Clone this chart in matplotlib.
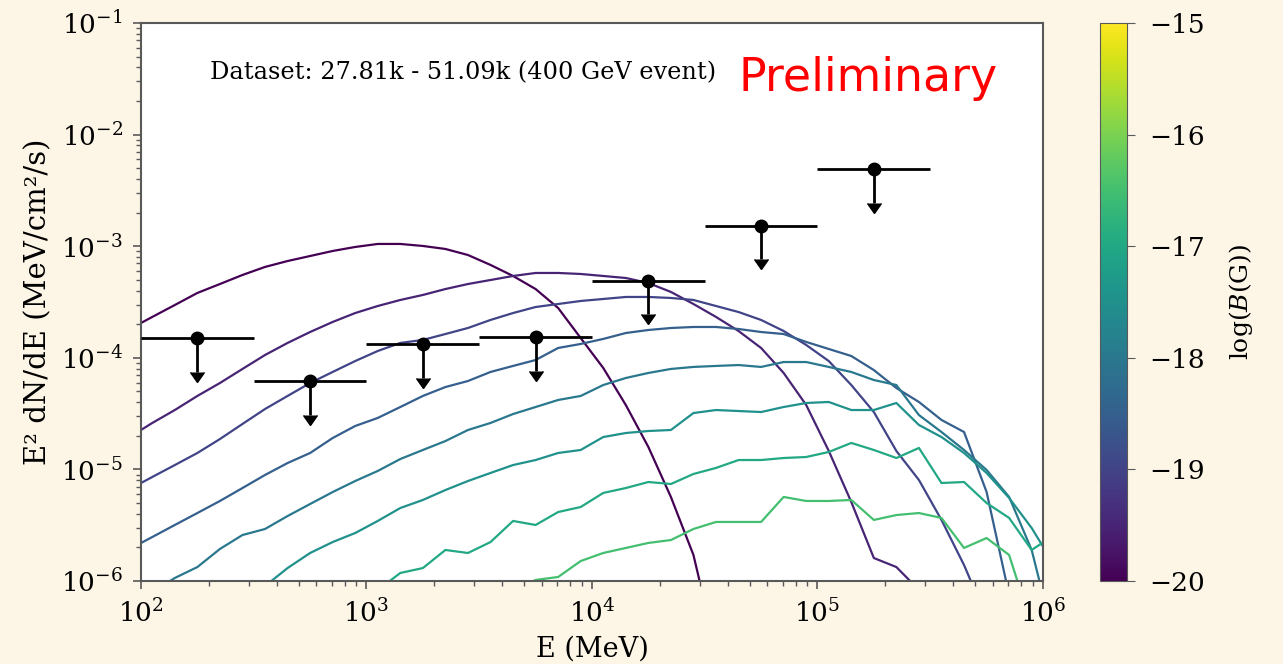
import numpy as np
import matplotlib
matplotlib.use('Agg')
import matplotlib.pyplot as plt
import matplotlib.colors as mcolors
import matplotlib.cm as cm

plt.rcParams['font.family'] = 'DejaVu Serif'
plt.rcParams['mathtext.fontset'] = 'dejavuserif'

# energy grid: bin centres, 10 bins per decade (log10 MeV)
log_e = np.round(np.arange(1.95, 6.06, 0.1), 2)

# cascade spectra, log10(E^2 dN/dE) for each log10(B/G)
log_b = [-20.0, -19.5, -19.0, -18.5, -18.0, -17.5, -17.0, -16.5]
start_e = [1.95, 1.95, 1.95, 1.95, 1.95, 2.45, 3.05, 3.65]

flux_b200 = [-3.742, -3.634, -3.527, -3.419, -3.339, -3.258, -3.186, -3.133, -3.088, -3.043,
             -3.007, -2.980, -2.980, -2.998, -3.025, -3.079, -3.168, -3.267, -3.384, -3.554,
             -3.823, -4.091, -4.423, -4.799, -5.247, -5.767, -6.62]
flux_b195 = [-4.710, -4.584, -4.468, -4.342, -4.226, -4.100, -3.975, -3.867, -3.769, -3.679,
             -3.599, -3.536, -3.482, -3.437, -3.384, -3.339, -3.303, -3.267, -3.240, -3.240,
             -3.249, -3.267, -3.285, -3.330, -3.410, -3.518, -3.634, -3.760, -3.912, -4.136,
             -4.423, -4.834, -5.292, -5.794, -5.875, -6.08]
flux_b190 = [-5.176, -5.068, -4.961, -4.853, -4.728, -4.593, -4.459, -4.342, -4.226, -4.127,
             -4.029, -3.939, -3.867, -3.840, -3.787, -3.733, -3.661, -3.599, -3.545, -3.518,
             -3.491, -3.473, -3.455, -3.455, -3.464, -3.482, -3.536, -3.590, -3.661, -3.760,
             -3.885, -4.029, -4.244, -4.486, -4.835, -5.095, -5.453, -5.857, -6.33]
flux_b185 = [-5.713, -5.606, -5.498, -5.391, -5.283, -5.167, -5.050, -4.943, -4.853, -4.719,
             -4.611, -4.539, -4.441, -4.342, -4.262, -4.208, -4.127, -4.073, -4.020, -3.912,
             -3.876, -3.831, -3.778, -3.751, -3.733, -3.724, -3.724, -3.742, -3.769, -3.787,
             -3.858, -3.921, -3.984, -4.110, -4.271, -4.396, -4.557, -4.665, -5.202, -6.125]
flux_b180 = [-6.30, -6.10, -5.973, -5.875, -5.713, -5.588, -5.534, -5.418, -5.310, -5.203,
             -5.104, -5.014, -4.907, -4.826, -4.746, -4.647, -4.584, -4.504, -4.441, -4.378,
             -4.342, -4.244, -4.181, -4.136, -4.100, -4.082, -4.073, -4.065, -4.082, -4.038,
             -4.038, -4.082, -4.127, -4.199, -4.244, -4.513, -4.665, -4.826, -5.005, -5.247,
             -5.722, -6.53]
flux_b175 = [-6.215, -6.045, -5.884, -5.749, -5.651, -5.570, -5.462, -5.346, -5.274, -5.185,
             -5.104, -5.032, -4.961, -4.916, -4.853, -4.826, -4.710, -4.674, -4.656, -4.647,
             -4.495, -4.468, -4.477, -4.486, -4.441, -4.405, -4.396, -4.468, -4.468, -4.405,
             -4.602, -4.710, -4.853, -5.032, -5.256, -5.525, -5.857]
flux_b170 = [-6.081, -5.928, -5.884, -5.722, -5.749, -5.651, -5.462, -5.498, -5.382, -5.337,
             -5.211, -5.167, -5.113, -5.131, -5.041, -4.987, -4.916, -4.916, -4.898, -4.889,
             -4.844, -4.763, -4.826, -4.898, -4.808, -5.122, -5.113, -5.301, -5.435, -5.722,
             -5.588]
flux_b165 = [-6.081, -5.991, -5.964, -5.821, -5.749, -5.704, -5.659, -5.633, -5.534, -5.471,
             -5.471, -5.471, -5.247, -5.283, -5.283, -5.274, -5.453, -5.409, -5.391, -5.435,
             -5.704, -5.615, -5.767, -6.40]
spectra = [flux_b200, flux_b195, flux_b190, flux_b185, flux_b180, flux_b175, flux_b170, flux_b165]

# upper limits, two bins per decade (bin edges incl. the last upper edge)
ul_edges = [1e2, 10**2.5, 1e3, 10**3.5, 1e4, 10**4.5, 1e5, 10**5.5]
ul_flux = [1.5e-4, 6.2e-5, 1.33e-4, 1.53e-4, 4.9e-4, 1.52e-3, 4.9e-3]

bg = '#fdf6e7'
fig = plt.figure(figsize=(12.83, 6.64), dpi=100, facecolor=bg)
ax = fig.add_axes([0.1099, 0.125, 0.703, 0.8404])
cax = fig.add_axes([0.8574, 0.125, 0.0211, 0.8404])

norm = mcolors.Normalize(vmin=-20, vmax=-15)
cmap = plt.get_cmap('viridis')

for b, e0, vals in zip(log_b, start_e, spectra):
    i0 = int(np.argmin(np.abs(log_e - e0)))
    le = log_e[i0:i0 + len(vals)]
    ax.plot(10**le, 10**np.array(vals), color=cmap(norm(b)), lw=1.6)

edges = np.array(ul_edges)
lo, hi = edges[:-1], edges[1:]
ec = np.sqrt(lo * hi)
uf = np.array(ul_flux)
# energy bins without caps, then the downward arrows
ax.errorbar(ec, uf, xerr=[ec - lo, hi - ec], fmt='none', ecolor='k', lw=2, capsize=0, zorder=5)
ax.errorbar(ec, uf, yerr=0.5 * uf, uplims=True, fmt='o', color='k', ms=9, lw=2,
            capsize=5, zorder=5)

ax.set_xscale('log')
ax.set_yscale('log')
ax.set_xlim(1e2, 1e6)
ax.set_ylim(1e-6, 1e-1)
ax.set_xlabel('E (MeV)', fontsize=19.5, labelpad=6)
ax.set_ylabel('E² dN/dE (MeV/cm²/s)', fontsize=21, labelpad=6)

spine_c = '0.35'
for s in ax.spines.values():
    s.set_color(spine_c)
    s.set_linewidth(1.5)
ax.tick_params(which='major', labelsize=19, length=6, width=1.2, color=spine_c, pad=7)
ax.tick_params(which='minor', length=3.5, width=1, color=spine_c)

ax.text(0.0765, 0.91, 'Dataset: 27.81k - 51.09k (400 GeV event)', transform=ax.transAxes,
        fontsize=17.3, va='center', ha='left')
ax.text(0.662, 0.90, 'Preliminary', transform=ax.transAxes, fontsize=33, color='red',
        family='DejaVu Sans', va='center', ha='left')

sm = cm.ScalarMappable(norm=norm, cmap=cmap)
cb = fig.colorbar(sm, cax=cax, ticks=[-20, -19, -18, -17, -16, -15])
cb.outline.set_edgecolor(spine_c)
cb.ax.tick_params(labelsize=19, length=6, color=spine_c, pad=10)
cb.set_label(r'$\log(B(\mathrm{G}))$', fontsize=18, labelpad=16)

fig.savefig('out.png', dpi=100, facecolor=bg)
